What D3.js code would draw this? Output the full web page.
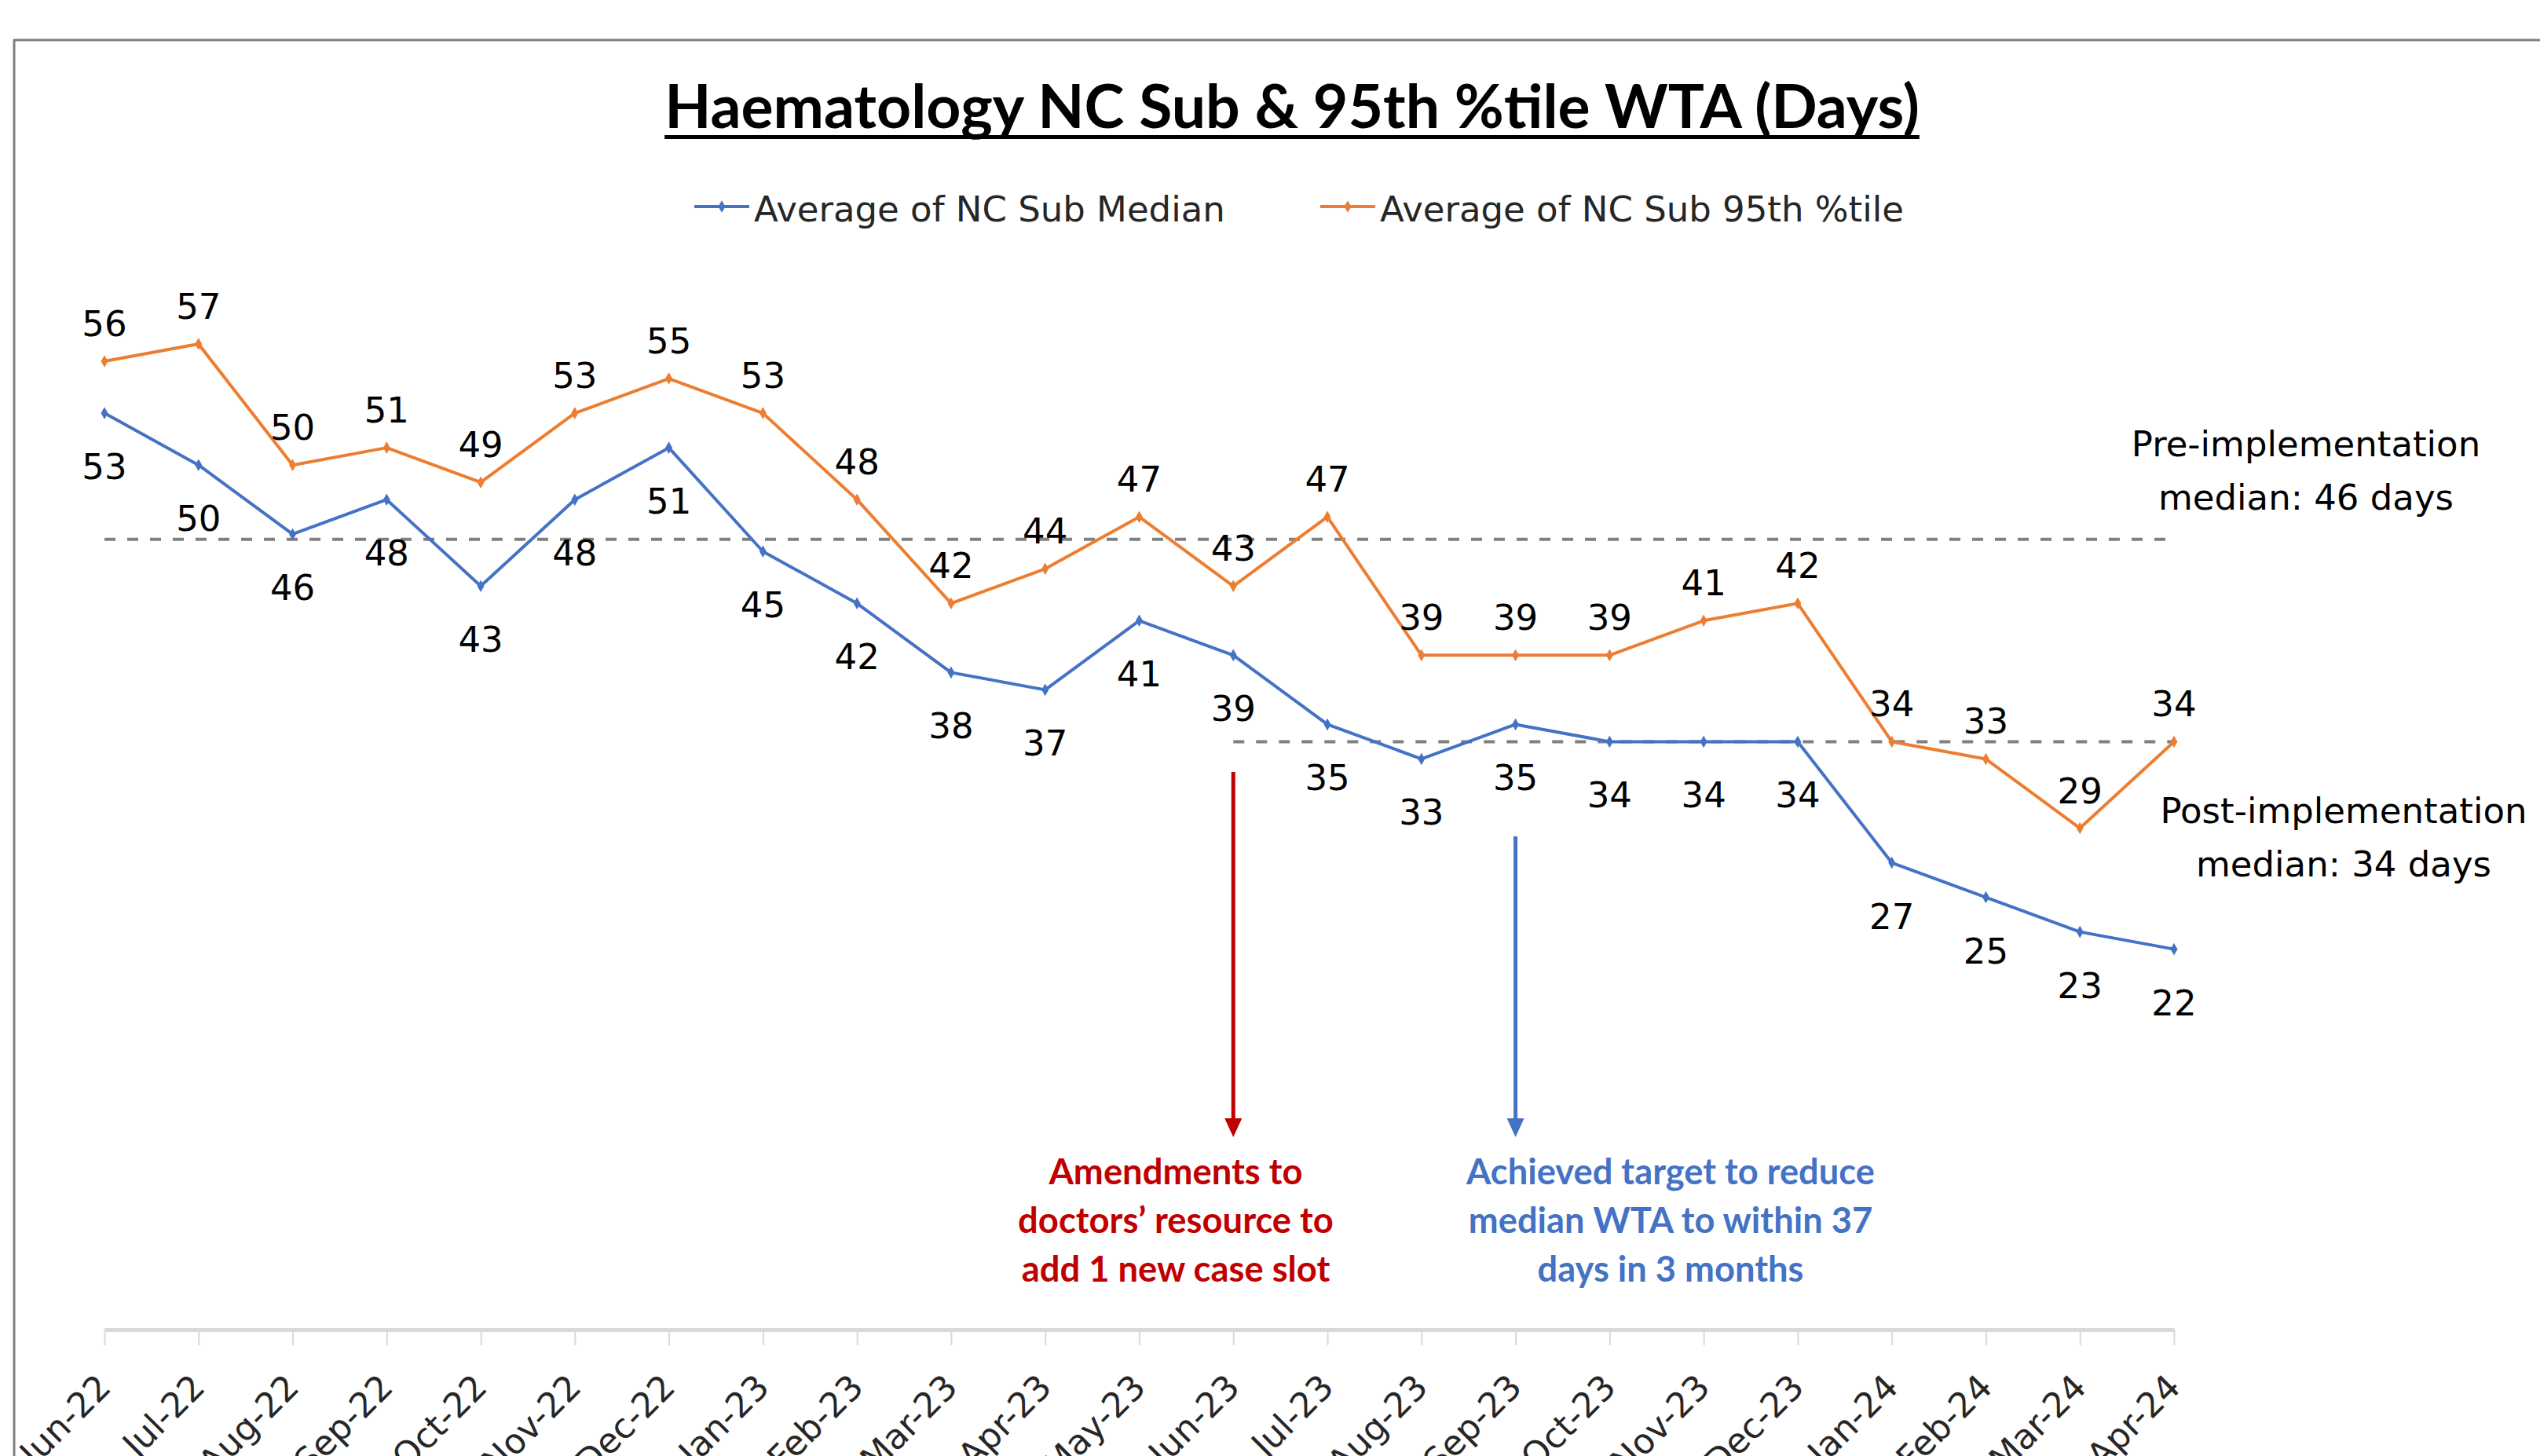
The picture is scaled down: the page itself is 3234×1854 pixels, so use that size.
<!DOCTYPE html>
<html>
<head>
<meta charset="utf-8">
<script src="https://cdn.jsdelivr.net/npm/d3@7"></script>
<style>
  html, body { margin: 0; padding: 0; background: #ffffff; }
  svg { display: block; }
</style>
</head>
<body>
<div id="chart"></div>
<script>
// ---------------- DATA ----------------
const months = ["Jun-22","Jul-22","Aug-22","Sep-22","Oct-22","Nov-22","Dec-22",
  "Jan-23","Feb-23","Mar-23","Apr-23","May-23","Jun-23","Jul-23","Aug-23","Sep-23",
  "Oct-23","Nov-23","Dec-23","Jan-24","Feb-24","Mar-24","Apr-24"];
const medianValues = [53,50,46,48,43,48,51,45,42,38,37,41,39,35,33,35,34,34,34,27,25,23,22];
const p95Values    = [56,57,50,51,49,53,55,53,48,42,44,47,43,47,39,39,39,41,42,34,33,29,34];
const seriesNames  = ["Average of NC Sub Median", "Average of NC Sub 95th %tile"];
const titleText = "Haematology NC Sub & 95th %tile WTA (Days)";

// reference (median) lines
const refValues = [45.7, 34];
const refStartMonth = ["Jun-22", "Jun-23"];
const refNotes = [["Pre-implementation", "median: 46 days"], ["Post-implementation", "median: 34 days"]];

// event annotations
const eventMonths = ["Jun-23", "Sep-23"];
const eventTexts = [
  ["Amendments to", "doctors\u2019 resource to", "add 1 new case slot"],
  ["Achieved target to reduce", "median WTA to within 37", "days in 3 months"]
];

// ---------------- LAYOUT ----------------
const W = 3234, H = 1854;
const blue = "#4472C4", orange = "#ED7D31", red = "#C00000";
const numFont = "'DejaVu Sans', Verdana, sans-serif";
const calFont = "Lato, 'Open Sans', sans-serif";

const svg = d3.select("#chart").append("svg")
  .attr("width", W).attr("height", H).attr("viewBox", `0 0 ${W} ${H}`);
svg.append("rect").attr("width", W).attr("height", H).attr("fill", "#fff");

// chart frame (extends beyond the picture at right/bottom)
svg.append("line").attr("x1", 17).attr("x2", W).attr("y1", 51).attr("y2", 51)
  .attr("stroke", "#808080").attr("stroke-width", 3);
svg.append("line").attr("x1", 18).attr("x2", 18).attr("y1", 50).attr("y2", H)
  .attr("stroke", "#808080").attr("stroke-width", 3);

const x = d3.scalePoint().domain(months).range([133, 2768]);
const y = d3.scaleLinear().domain([0, 60]).range([1693, 372]);

// helper: fit font size so the longest line has target width
function fitSize(lines, family, weight, targetWidth) {
  const t = svg.append("text").attr("font-family", family).attr("font-weight", weight)
    .attr("font-size", 100).attr("visibility", "hidden");
  let maxW = 0;
  lines.forEach(l => { t.text(l); maxW = Math.max(maxW, t.node().getComputedTextLength()); });
  t.remove();
  return 100 * targetWidth / maxW;
}

// ---------------- TITLE ----------------
const titleSize = fitSize([titleText], calFont, "bold", 1598);
const title = svg.append("text")
  .attr("x", 1645).attr("y", 163)
  .attr("text-anchor", "middle")
  .attr("font-family", calFont).attr("font-weight", "bold")
  .attr("font-size", titleSize).attr("fill", "#000")
  .text(titleText);
const tw = title.node().getComputedTextLength();
svg.append("rect").attr("x", 1645 - tw / 2).attr("width", tw)
  .attr("y", 172).attr("height", 5).attr("fill", "#000");

// ---------------- LEGEND ----------------
const legendX = [884, 1681];
const legendColors = [blue, orange];
seriesNames.forEach((name, i) => {
  const g = svg.append("g").attr("transform", `translate(${legendX[i]},263)`);
  g.append("line").attr("x1", 0).attr("x2", 70).attr("y1", 0).attr("y2", 0)
    .attr("stroke", legendColors[i]).attr("stroke-width", 4);
  g.append("path").attr("transform", "translate(35,0)")
    .attr("d", d3.symbol(d3.symbolDiamond, 70)()).attr("fill", legendColors[i]);
  g.append("text").attr("x", 76).attr("y", 19)
    .attr("font-family", numFont).attr("font-size", 45).attr("fill", "#262626")
    .text(name);
});

// ---------------- AXIS ----------------
const axis = d3.axisBottom(x).tickSize(20).tickSizeOuter(0);
const ax = svg.append("g").attr("transform", `translate(0,${y(0)})`).call(axis);
ax.select(".domain").attr("stroke", "#D9D9D9").attr("stroke-width", 5);
ax.selectAll(".tick line").attr("stroke", "#D9D9D9").attr("stroke-width", 2);
ax.selectAll(".tick text")
  .attr("font-family", numFont).attr("font-size", 44).attr("fill", "#262626")
  .attr("text-anchor", "end").attr("x", 0).attr("y", 0).attr("dy", 0)
  .attr("transform", "translate(10,76) rotate(-45)");

// ---------------- REFERENCE LINES ----------------
refValues.forEach((v, i) => {
  svg.append("line")
    .attr("x1", x(refStartMonth[i])).attr("x2", x(months[months.length - 1]))
    .attr("y1", y(v)).attr("y2", y(v))
    .attr("stroke", "#808080").attr("stroke-width", 4)
    .attr("stroke-dasharray", "14,15");
});

// ---------------- SERIES ----------------
const series = [
  { values: p95Values, color: orange, above: true },
  { values: medianValues, color: blue, above: false }
];
const line = d3.line().x((d, i) => x(months[i])).y(d => y(d));
series.forEach(s => {
  svg.append("path").datum(s.values)
    .attr("d", line).attr("fill", "none")
    .attr("stroke", s.color).attr("stroke-width", 4).attr("stroke-linejoin", "round");
  svg.append("g").selectAll("path").data(s.values).join("path")
    .attr("transform", (d, i) => `translate(${x(months[i])},${y(d)})`)
    .attr("d", d3.symbol(d3.symbolDiamond, 70)())
    .attr("fill", s.color);
  svg.append("g").selectAll("text").data(s.values).join("text")
    .attr("x", (d, i) => x(months[i]))
    .attr("y", d => s.above ? y(d) - 32 : y(d) + 84)
    .attr("text-anchor", "middle")
    .attr("font-family", numFont).attr("font-size", 45).attr("fill", "#000")
    .text(d => d);
});

// ---------------- NOTES FOR REFERENCE LINES ----------------
const noteCx = [2936, 2984];
const noteBase = [581, 1048];
refNotes.forEach((lines, i) => {
  lines.forEach((l, j) => {
    svg.append("text").attr("x", noteCx[i]).attr("y", noteBase[i] + j * 68)
      .attr("text-anchor", "middle")
      .attr("font-family", numFont).attr("font-size", 45).attr("fill", "#000")
      .text(l);
  });
});

// ---------------- EVENT ARROWS & TEXT ----------------
const arrowTop = [983, 1065];
const eventColors = [red, blue];
const textCx = [1497, 2127];
const textW = [402, 520];
eventMonths.forEach((m, i) => {
  const ex = x(m);
  svg.append("line").attr("x1", ex).attr("x2", ex)
    .attr("y1", arrowTop[i]).attr("y2", 1428)
    .attr("stroke", eventColors[i]).attr("stroke-width", 5);
  svg.append("path")
    .attr("d", `M${ex - 11},1424 L${ex + 11},1424 L${ex},1448 Z`)
    .attr("fill", eventColors[i]);
  const fs = fitSize(eventTexts[i], calFont, "bold", textW[i]);
  eventTexts[i].forEach((l, j) => {
    svg.append("text").attr("x", textCx[i]).attr("y", 1508 + j * 62)
      .attr("text-anchor", "middle")
      .attr("font-family", calFont).attr("font-weight", "bold")
      .attr("font-size", fs).attr("fill", eventColors[i])
      .text(l);
  });
});
</script>
</body>
</html>
